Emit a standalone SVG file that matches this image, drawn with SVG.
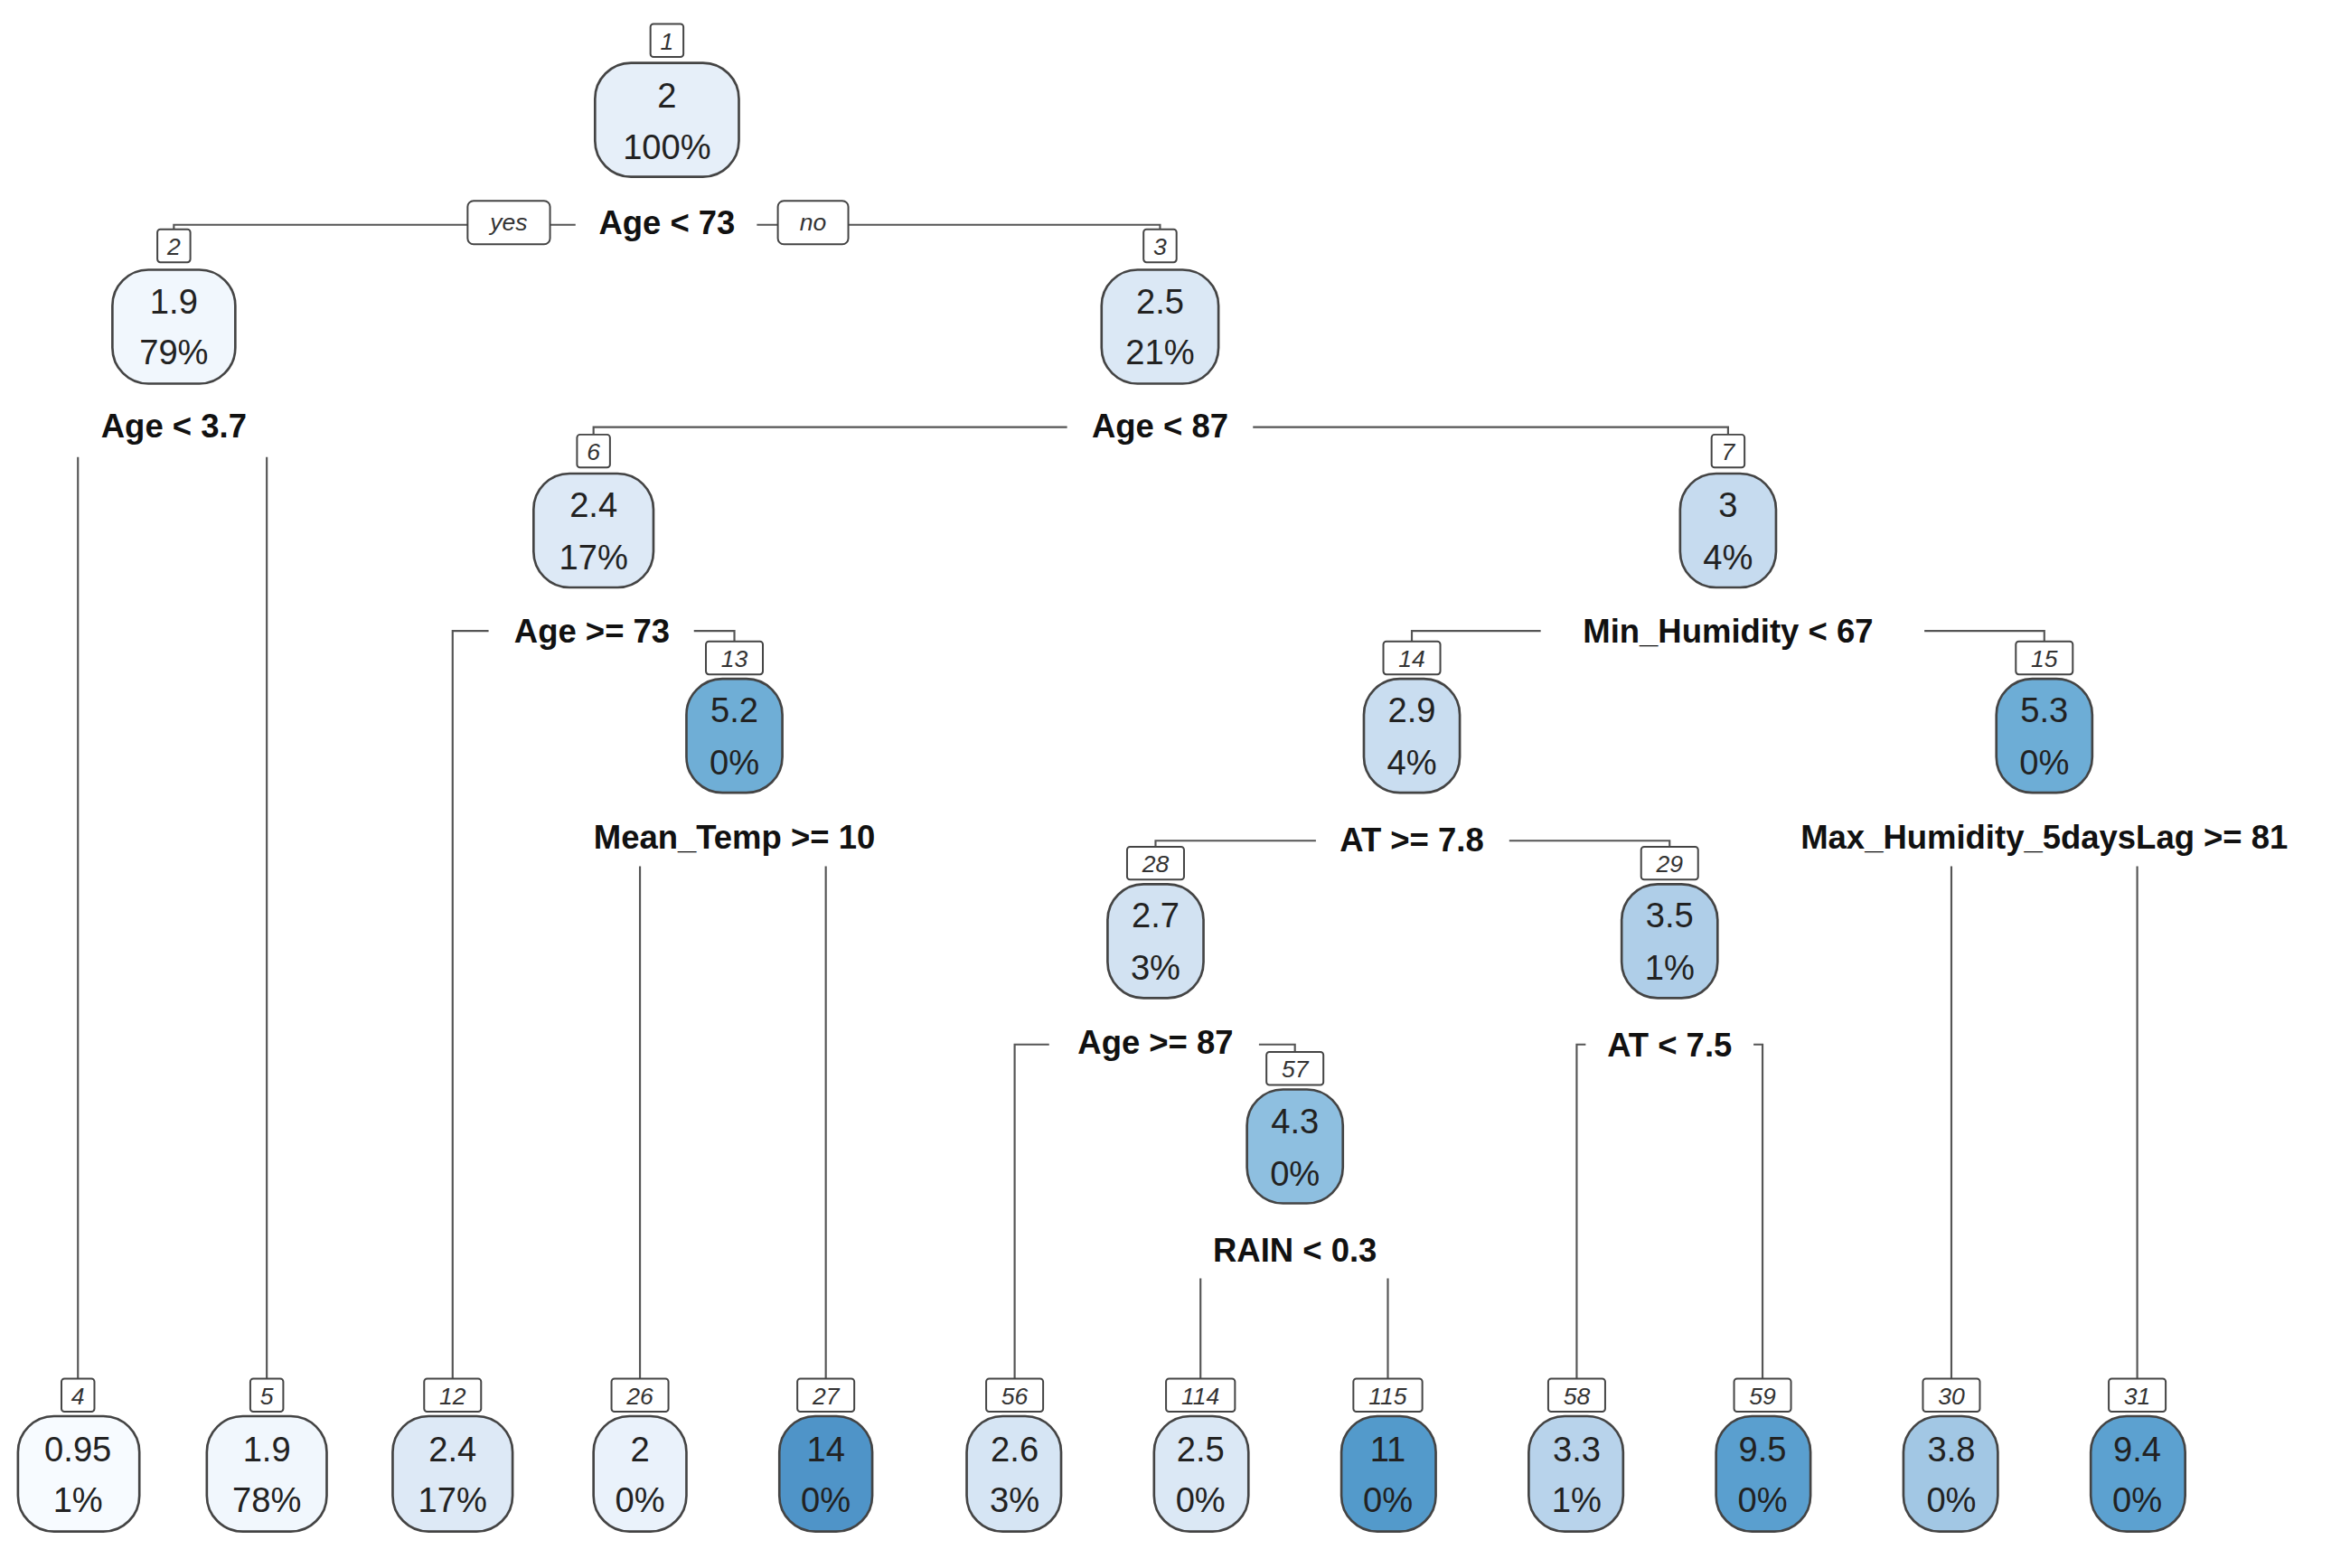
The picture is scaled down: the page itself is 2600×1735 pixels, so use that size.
<svg xmlns="http://www.w3.org/2000/svg" width="2600" height="1735" viewBox="0 0 2600 1735">
<style>
.nb{stroke:#444;stroke-width:1.6}
.lb{fill:#fff;stroke:#444;stroke-width:1.2}
.lt{font-family:"Liberation Sans",Arial,sans-serif;font-style:italic;font-size:16px;fill:#333;text-anchor:middle}
.nt{font-family:"Liberation Sans",Arial,sans-serif;font-size:23px;fill:#222;text-anchor:middle}
.st{font-family:"Liberation Sans",Arial,sans-serif;font-weight:bold;font-size:22px;fill:#111;text-anchor:middle}
.c{stroke:#555;stroke-width:1.3;fill:none}
</style>
<rect width="2600" height="1735" fill="#fff"/>
<g transform="scale(1.6582)">
<g id="connectors">
<path class="c" d="M116 153V150H312M367 150H384M505 150H519M566 150H774V153"/>
<path class="c" d="M396 290V285H712M836 285H1153V290"/>
<path class="c" d="M52 305V920M178 305V920"/>
<path class="c" d="M302 920V421H326M463 421H490V428"/>
<path class="c" d="M942 428V421H1028M1284 421H1364V428"/>
<path class="c" d="M427 578V920M551 578V920M1302 578V920M1426 578V920"/>
<path class="c" d="M771 565V561H878M1007 561H1114V565"/>
<path class="c" d="M677 920V697H700M840 697H864V702"/>
<path class="c" d="M1052 920V697H1058M1170 697H1176V920"/>
<path class="c" d="M801 853V920M926 853V920"/>
</g>
<g id="edge-labels">
<rect class="lb" x="312" y="134" width="55" height="29" rx="4"/><text class="lt" x="339.5" y="154">yes</text>
<rect class="lb" x="519" y="134" width="47" height="29" rx="4"/><text class="lt" x="542.5" y="154">no</text>
</g>
<g id="splits">
<text class="st" x="445" y="156">Age &lt; 73</text>
<text class="st" x="116" y="292">Age &lt; 3.7</text>
<text class="st" x="774" y="292">Age &lt; 87</text>
<text class="st" x="395" y="429">Age &gt;= 73</text>
<text class="st" x="1153" y="429">Min_Humidity &lt; 67</text>
<text class="st" x="490" y="566">Mean_Temp &gt;= 10</text>
<text class="st" x="942" y="568">AT &gt;= 7.8</text>
<text class="st" x="1364" y="566">Max_Humidity_5daysLag &gt;= 81</text>
<text class="st" x="771" y="703">Age &gt;= 87</text>
<text class="st" x="1114" y="705">AT &lt; 7.5</text>
<text class="st" x="864" y="842">RAIN &lt; 0.3</text>
</g>
<g id="n1"><rect class="lb" x="434" y="16" width="22" height="22" rx="2"/><text class="lt" x="445" y="33">1</text><rect class="nb" x="397" y="42" width="96" height="76" rx="24" fill="#e6eff9"/><text class="nt" x="445" y="72">2</text><text class="nt" x="445" y="106">100%</text></g>
<g id="n2"><rect class="lb" x="105" y="153" width="22" height="22" rx="2"/><text class="lt" x="116" y="170">2</text><rect class="nb" x="75" y="180" width="82" height="76" rx="24" fill="#f1f7fd"/><text class="nt" x="116" y="209">1.9</text><text class="nt" x="116" y="243">79%</text></g>
<g id="n3"><rect class="lb" x="763" y="153" width="22" height="22" rx="2"/><text class="lt" x="774" y="170">3</text><rect class="nb" x="735" y="180" width="78" height="76" rx="24" fill="#dbe8f5"/><text class="nt" x="774" y="209">2.5</text><text class="nt" x="774" y="243">21%</text></g>
<g id="n6"><rect class="lb" x="385" y="290" width="22" height="22" rx="2"/><text class="lt" x="396" y="307">6</text><rect class="nb" x="356" y="316" width="80" height="76" rx="24" fill="#dde9f6"/><text class="nt" x="396" y="345">2.4</text><text class="nt" x="396" y="380">17%</text></g>
<g id="n7"><rect class="lb" x="1142" y="290" width="22" height="22" rx="2"/><text class="lt" x="1153" y="307">7</text><rect class="nb" x="1121" y="316" width="64" height="76" rx="24" fill="#c6dbef"/><text class="nt" x="1153" y="345">3</text><text class="nt" x="1153" y="380">4%</text></g>
<g id="n13"><rect class="lb" x="471" y="428" width="38" height="22" rx="2"/><text class="lt" x="490" y="445">13</text><rect class="nb" x="458" y="453" width="64" height="76" rx="24" fill="#6faed6"/><text class="nt" x="490" y="482">5.2</text><text class="nt" x="490" y="517">0%</text></g>
<g id="n14"><rect class="lb" x="923" y="428" width="38" height="22" rx="2"/><text class="lt" x="942" y="445">14</text><rect class="nb" x="910" y="453" width="64" height="76" rx="24" fill="#c9ddf0"/><text class="nt" x="942" y="482">2.9</text><text class="nt" x="942" y="517">4%</text></g>
<g id="n15"><rect class="lb" x="1345" y="428" width="38" height="22" rx="2"/><text class="lt" x="1364" y="445">15</text><rect class="nb" x="1332" y="453" width="64" height="76" rx="24" fill="#6dadd6"/><text class="nt" x="1364" y="482">5.3</text><text class="nt" x="1364" y="517">0%</text></g>
<g id="n28"><rect class="lb" x="752" y="565" width="38" height="22" rx="2"/><text class="lt" x="771" y="582">28</text><rect class="nb" x="739" y="590" width="64" height="76" rx="24" fill="#d2e2f2"/><text class="nt" x="771" y="619">2.7</text><text class="nt" x="771" y="654">3%</text></g>
<g id="n29"><rect class="lb" x="1095" y="565" width="38" height="22" rx="2"/><text class="lt" x="1114" y="582">29</text><rect class="nb" x="1082" y="590" width="64" height="76" rx="24" fill="#afcee8"/><text class="nt" x="1114" y="619">3.5</text><text class="nt" x="1114" y="654">1%</text></g>
<g id="n57"><rect class="lb" x="845" y="702" width="38" height="22" rx="2"/><text class="lt" x="864" y="719">57</text><rect class="nb" x="832" y="727" width="64" height="76" rx="24" fill="#8ebfe0"/><text class="nt" x="864" y="756">4.3</text><text class="nt" x="864" y="791">0%</text></g>
<g id="n4"><rect class="lb" x="41" y="920" width="22" height="22" rx="2"/><text class="lt" x="52" y="937">4</text><rect class="nb" x="12" y="945" width="81" height="77" rx="24" fill="#f7fbff"/><text class="nt" x="52" y="975">0.95</text><text class="nt" x="52" y="1009">1%</text></g>
<g id="n5"><rect class="lb" x="167" y="920" width="22" height="22" rx="2"/><text class="lt" x="178" y="937">5</text><rect class="nb" x="138" y="945" width="80" height="77" rx="24" fill="#f1f7fd"/><text class="nt" x="178" y="975">1.9</text><text class="nt" x="178" y="1009">78%</text></g>
<g id="n12"><rect class="lb" x="283" y="920" width="38" height="22" rx="2"/><text class="lt" x="302" y="937">12</text><rect class="nb" x="262" y="945" width="80" height="77" rx="24" fill="#dde9f6"/><text class="nt" x="302" y="975">2.4</text><text class="nt" x="302" y="1009">17%</text></g>
<g id="n26"><rect class="lb" x="408" y="920" width="38" height="22" rx="2"/><text class="lt" x="427" y="937">26</text><rect class="nb" x="396" y="945" width="62" height="77" rx="24" fill="#eaf2fb"/><text class="nt" x="427" y="975">2</text><text class="nt" x="427" y="1009">0%</text></g>
<g id="n27"><rect class="lb" x="532" y="920" width="38" height="22" rx="2"/><text class="lt" x="551" y="937">27</text><rect class="nb" x="520" y="945" width="62" height="77" rx="24" fill="#4f94c8"/><text class="nt" x="551" y="975">14</text><text class="nt" x="551" y="1009">0%</text></g>
<g id="n56"><rect class="lb" x="658" y="920" width="38" height="22" rx="2"/><text class="lt" x="677" y="937">56</text><rect class="nb" x="645" y="945" width="63" height="77" rx="24" fill="#d6e5f4"/><text class="nt" x="677" y="975">2.6</text><text class="nt" x="677" y="1009">3%</text></g>
<g id="n114"><rect class="lb" x="778" y="920" width="46" height="22" rx="2"/><text class="lt" x="801" y="937">114</text><rect class="nb" x="770" y="945" width="63" height="77" rx="24" fill="#dbe8f5"/><text class="nt" x="801" y="975">2.5</text><text class="nt" x="801" y="1009">0%</text></g>
<g id="n115"><rect class="lb" x="903" y="920" width="46" height="22" rx="2"/><text class="lt" x="926" y="937">115</text><rect class="nb" x="895" y="945" width="63" height="77" rx="24" fill="#539acb"/><text class="nt" x="926" y="975">11</text><text class="nt" x="926" y="1009">0%</text></g>
<g id="n58"><rect class="lb" x="1033" y="920" width="38" height="22" rx="2"/><text class="lt" x="1052" y="937">58</text><rect class="nb" x="1020" y="945" width="63" height="77" rx="24" fill="#b8d3eb"/><text class="nt" x="1052" y="975">3.3</text><text class="nt" x="1052" y="1009">1%</text></g>
<g id="n59"><rect class="lb" x="1157" y="920" width="38" height="22" rx="2"/><text class="lt" x="1176" y="937">59</text><rect class="nb" x="1145" y="945" width="63" height="77" rx="24" fill="#5a9fcf"/><text class="nt" x="1176" y="975">9.5</text><text class="nt" x="1176" y="1009">0%</text></g>
<g id="n30"><rect class="lb" x="1283" y="920" width="38" height="22" rx="2"/><text class="lt" x="1302" y="937">30</text><rect class="nb" x="1270" y="945" width="63" height="77" rx="24" fill="#a2c7e4"/><text class="nt" x="1302" y="975">3.8</text><text class="nt" x="1302" y="1009">0%</text></g>
<g id="n31"><rect class="lb" x="1407" y="920" width="38" height="22" rx="2"/><text class="lt" x="1426" y="937">31</text><rect class="nb" x="1395" y="945" width="63" height="77" rx="24" fill="#5ca1d0"/><text class="nt" x="1426" y="975">9.4</text><text class="nt" x="1426" y="1009">0%</text></g>
</g>
</svg>
